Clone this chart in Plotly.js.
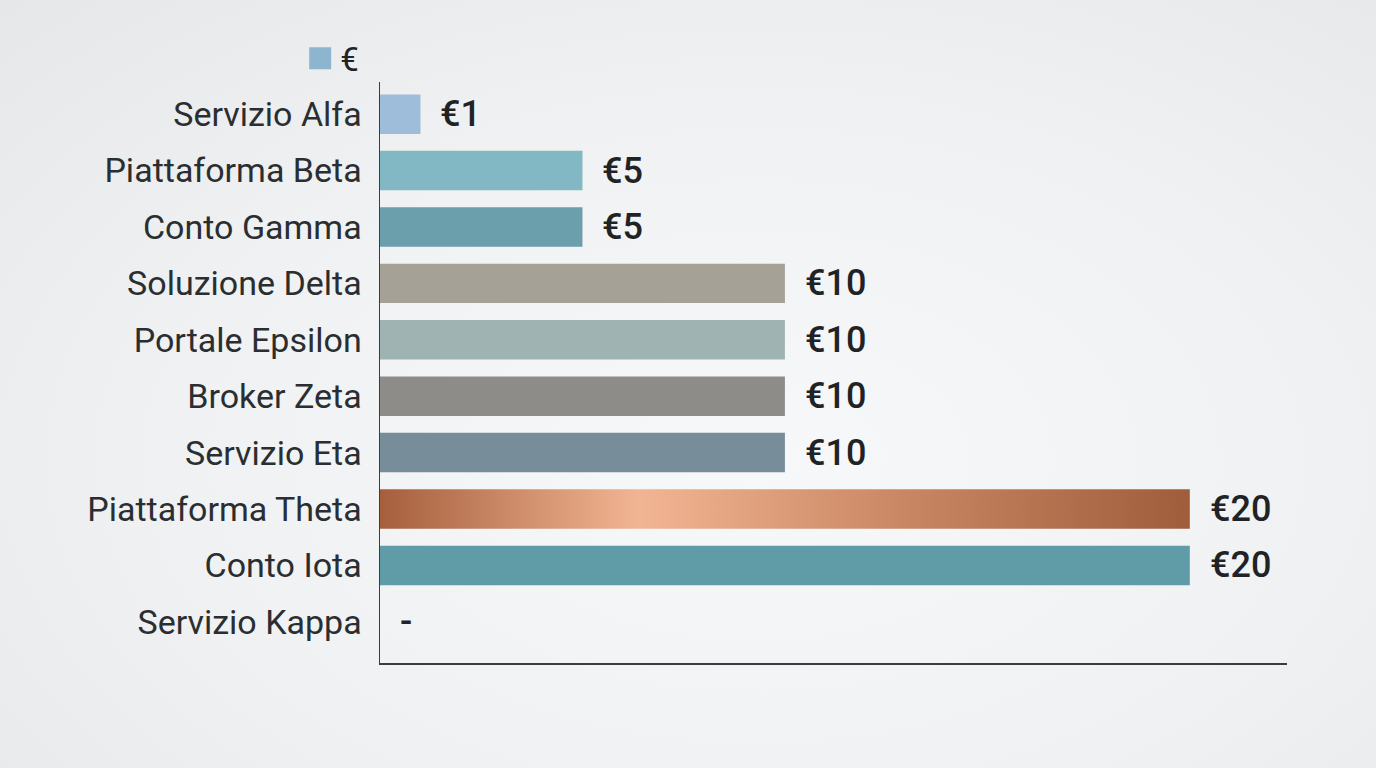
<!DOCTYPE html>
<html>
<head>
<meta charset="utf-8">
<script src="https://cdn.plot.ly/plotly-3.0.1.min.js"></script>
<style>
  html, body { margin: 0; padding: 0; }
  body {
    width: 1376px; height: 768px; overflow: hidden;
    background: radial-gradient(ellipse at 55% 60%, #f6f8f9 0%, #eff1f2 55%, #e5e7e9 100%);
  }
  #chart { width: 1376px; height: 768px; }
</style>
</head>
<body>
<div id="chart"></div>
<script>
// data
var services = ["Servizio Alfa", "Piattaforma Beta", "Conto Gamma", "Soluzione Delta",
  "Portale Epsilon", "Broker Zeta", "Servizio Eta", "Piattaforma Theta", "Conto Iota", "Servizio Kappa"];
var prices = [1, 5, 5, 10, 10, 10, 10, 20, 20, 0];
var priceLabels = ["€1", "€5", "€5", "€10", "€10", "€10", "€10", "€20", "€20", "-"];
var barColors = ["#9dbddb", "#82b8c4", "#6a9fab", "#a5a197", "#9fb3b3",
  "#8d8c88", "#778d9a", "#c98462", "#609ca8", "#cccccc"];

var trace = {
  type: "bar",
  orientation: "h",
  name: "€",
  y: services,
  x: prices,
  marker: { color: barColors },
  hoverinfo: "none",
  showlegend: true
};

var labels = [];
for (let i = 0; i < services.length; i++) {
  labels.push({
    x: prices[i],
    y: services[i],
    text: priceLabels[i],
    xanchor: "left",
    xshift: 18,
    showarrow: false,
    font: { family: "Roboto", size: 36, color: "#1f2326", weight: 500 }
  });
}

var layout = {
  width: 1376,
  height: 768,
  paper_bgcolor: "rgba(0,0,0,0)",
  plot_bgcolor: "rgba(0,0,0,0)",
  margin: { l: 380, r: 89, t: 82, b: 105 },
  bargap: 0.3,
  font: { family: "Roboto", color: "#2b2e31" },
  xaxis: {
    range: [0, 22.4],
    showgrid: false,
    zeroline: false,
    showticklabels: false,
    ticks: "",
    showline: true,
    linecolor: "#3a3d40",
    linewidth: 1.5
  },
  yaxis: {
    range: [9.73, -0.57],
    showgrid: false,
    zeroline: false,
    showline: true,
    linecolor: "#3a3d40",
    linewidth: 1.5,
    ticks: "",
    ticklabelstandoff: 10,
    tickfont: { family: "Roboto", size: 34, color: "#2b2e31" }
  },
  showlegend: true,
  legend: {
    x: -0.088,
    xanchor: "left",
    y: 1.041,
    yanchor: "middle",
    bgcolor: "rgba(0,0,0,0)",
    font: { family: "Roboto", size: 33, color: "#1f2326" }
  },
  annotations: labels
};

Plotly.newPlot("chart", [trace], layout, { displayModeBar: false, staticPlot: true }).then(function (gd) {
  var svg = gd.querySelector(".main-svg");
  var ns = "http://www.w3.org/2000/svg";
  // copper sheen on the Theta bar
  var defs = svg.querySelector("defs") || svg.insertBefore(document.createElementNS(ns, "defs"), svg.firstChild);
  var grad = document.createElementNS(ns, "linearGradient");
  grad.setAttribute("id", "copper");
  grad.setAttribute("x1", "0"); grad.setAttribute("x2", "1");
  grad.setAttribute("y1", "0"); grad.setAttribute("y2", "0");
  [["0", "#a65f3d"], ["0.32", "#f2b593"], ["0.65", "#c98662"], ["1", "#9f5d3c"]].forEach(function (s) {
    var st = document.createElementNS(ns, "stop");
    st.setAttribute("offset", s[0]);
    st.setAttribute("stop-color", s[1]);
    grad.appendChild(st);
  });
  defs.appendChild(grad);
  var bars = gd.querySelectorAll(".bars .point path");
  if (bars[7]) bars[7].style.fill = "url(#copper)";
  // bigger legend swatch
  gd.querySelectorAll(".legend .legendpoints path").forEach(function (p) {
    p.setAttribute("d", "M11,11H-11V-11H11Z");
    p.style.fill = "#8db5cf";
    p.style.stroke = "none";
  });
});
</script>
</body>
</html>
